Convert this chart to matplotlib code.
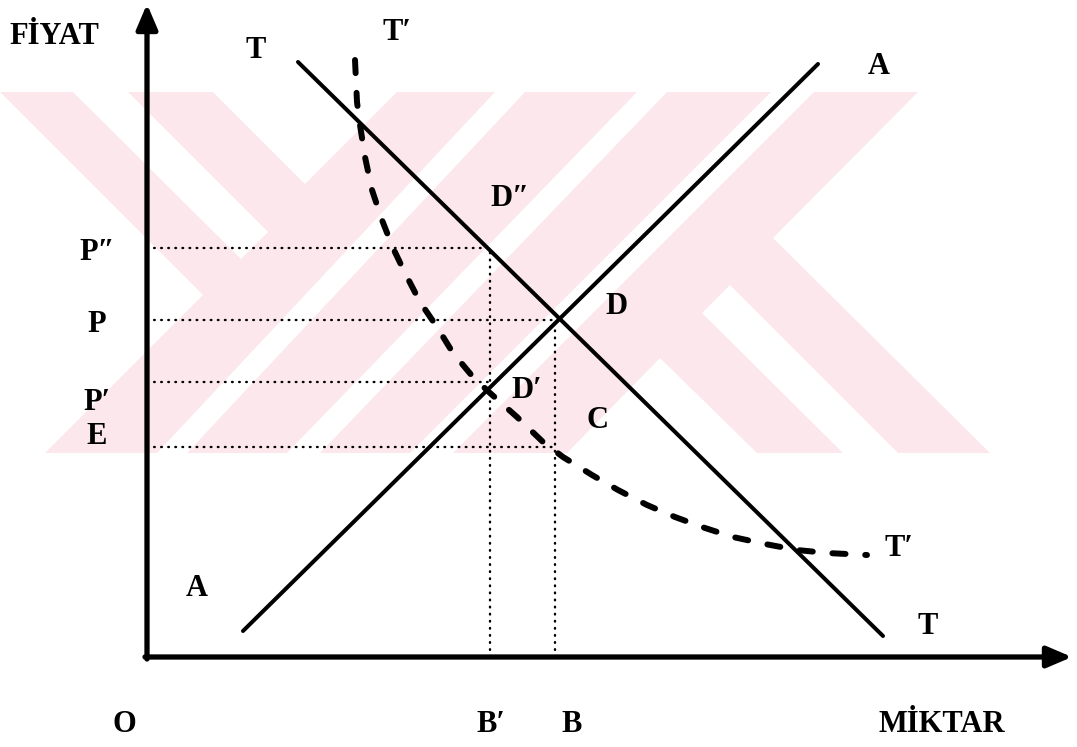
import matplotlib
matplotlib.use("Agg")
import matplotlib.pyplot as plt
from matplotlib.patches import Polygon

# ---------------- data (quantity, price) in chart units ----------------
supply_q = [96, 671]          # A-A
supply_p = [26, 593]
demand_q = [151, 736]         # T-T
demand_p = [595, 21]
tprime_q = [208, 210, 213, 218, 225, 235, 246, 258, 273, 290, 306, 326, 343,
            370, 396, 416, 445, 471, 500, 528, 558, 586, 618, 650, 680, 720]
tprime_p = [597, 555, 532, 500, 467, 437, 409, 384, 355, 330, 304, 280, 264,
            240, 215, 200, 182, 167, 152, 140, 129, 120, 113, 107, 104, 102]
price_labels = ["P″", "P", "P′", "E"]
price_levels = [409, 337, 275, 210]
price_ends_q = [342, 408, 343, 406]
qty_labels = ["B′", "B"]
qty_levels = [343, 408]
qty_tops = [409, 337]

W, H = 1077, 747
X0, Y0 = 147, 657          # pixel position of origin


def pix(x, y):
    """pixel position -> chart units"""
    return (x - X0, Y0 - y)


fig = plt.figure(figsize=(W / 100, H / 100), dpi=100)
ax = fig.add_axes([0, 0, 1, 1])
ax.set_xlim(-X0, W - X0)
ax.set_ylim(Y0 - H, Y0)
ax.axis("off")

# ---------------- faint watermark ----------------
pink = "#fce8ec"
base = [(0, 92), (918, 92), (773, 238), (990, 453), (45, 453), (203, 295)]
whites = [
    [(213, 92), (397, 92), (305, 184)],
    [(73, 92), (128, 92), (268, 232), (241, 259)],
    [(157, 453), (187, 453), (525, 92), (495, 92)],
    [(287, 453), (320, 453), (667, 92), (637, 92)],
    [(410, 453), (453, 453), (814, 92), (771, 92)],
    [(730, 285), (898, 453), (843, 453), (702, 313)],
    [(660, 358), (757, 453), (567, 453)],
]
ax.add_patch(Polygon([pix(*p) for p in base], closed=True, fc=pink, ec="none", zorder=0))
for w in whites:
    ax.add_patch(Polygon([pix(*p) for p in w], closed=True, fc="white", ec="none", zorder=0.5))

# ---------------- axes with arrows ----------------
arrow_kw = dict(arrowstyle="-|>,head_length=0.75,head_width=0.32", lw=3.8,
                color="black", mutation_scale=20, shrinkA=0, shrinkB=0)
ax.annotate("", xy=pix(147, 4), xytext=(0, -2), arrowprops=arrow_kw, zorder=5)
ax.annotate("", xy=pix(1072, 657), xytext=(-2, 0), arrowprops=arrow_kw, zorder=5)

# ---------------- dotted guide lines ----------------
dot_kw = dict(color="black", lw=1.7, linestyle=(0, (0.3, 2.7)),
              dash_capstyle="round", zorder=2)
for p, q in zip(price_levels, price_ends_q):
    ax.plot([0, q], [p, p], **dot_kw)
for q, p in zip(qty_levels, qty_tops):
    ax.plot([q, q], [0, p], **dot_kw)

# ---------------- curves ----------------
ax.plot(supply_q, supply_p, color="black", lw=2.9, solid_capstyle="round", zorder=3)
ax.plot(demand_q, demand_p, color="black", lw=2.9, solid_capstyle="round", zorder=3)
ax.plot(tprime_q, tprime_p, color="black", lw=4.3, linestyle=(0, (2.2, 3.3)),
        dash_capstyle="round", zorder=3)

# ---------------- labels ----------------
fam = ["Liberation Serif", "DejaVu Serif"]
tkw = dict(family=fam, fontweight="bold", fontsize=22, color="black",
           ha="center", va="center", zorder=6)
ax.text(*pix(54, 37), "FİYAT", **tkw)
ax.text(*pix(942, 724), "MİKTAR", **tkw)
ax.text(*pix(124, 724), "O", **tkw)
ax.text(*pix(491, 724), qty_labels[0], **tkw)
ax.text(*pix(572, 724), qty_labels[1], **tkw)
for lab, y in zip(price_labels, [252, 325, 402, 437]):
    ax.text(*pix(97, y), lab, **tkw)
ax.text(*pix(256, 50), "T", **tkw)
ax.text(*pix(397, 32), "T′", **tkw)
ax.text(*pix(879, 66), "A", **tkw)
ax.text(*pix(510, 199), "D″", **tkw)
ax.text(*pix(617, 306), "D", **tkw)
ax.text(*pix(527, 390), "D′", **tkw)
ax.text(*pix(598, 420), "C", **tkw)
ax.text(*pix(197, 588), "A", **tkw)
ax.text(*pix(899, 549), "T′", **tkw)
ax.text(*pix(928, 627), "T", **tkw)

fig.savefig("out.png", dpi=100)
